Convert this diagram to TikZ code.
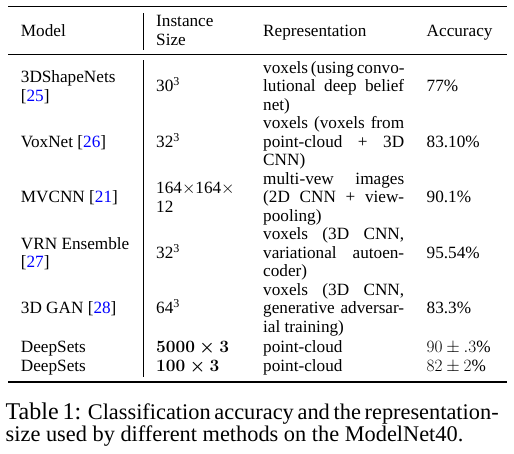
\documentclass[tikz,border=0pt]{standalone}
\usepackage{fontspec}
\setmainfont{Liberation Serif}
\usepackage{tikz}

\newcommand{\jline}[1]{\makebox[141pt][s]{#1}}
\newcommand{\cit}[1]{[\textcolor{blue}{#1}]}

\begin{document}
\begin{tikzpicture}[x=1pt,y=-1pt,
  txt/.style={anchor=base west,inner sep=0pt,font=\fontsize{17.2}{18.5}\selectfont},
  bld/.style={txt,font=\fontsize{17.2}{18.5}\selectfont\mathversion{bold}},
  captxt/.style={anchor=base west,inner sep=0pt,font=\fontsize{22.35}{24}\selectfont}]
  \useasboundingbox (0,0) rectangle (514,453);

  % rules
  \draw [line width=1.7pt] (8,6.5) -- (507,6.5);
  \draw [line width=1pt] (8,54) -- (507,54);
  \draw [line width=1.7pt] (8,381.7) -- (507,381.7);
  \draw [line width=0.9pt] (143.5,13) -- (143.5,50);
  \draw [line width=0.9pt] (143.5,60) -- (143.5,377);

  % header
  \node [txt] (hmodel) at (20.7,36.5) {Model};
  \node [txt] (hinst) at (156,26.7) {Instance};
  \node [txt] (hsize) at (156,45) {Size};
  \node [txt] (hrep) at (263,36.5) {Representation};
  \node [txt] (hacc) at (426.5,36.5) {Accuracy};

  % 3DShapeNets
  \node [txt] (m1) at (20.7,82.5) {3DShapeNets};
  \node [txt] (m1c) at (20.7,101) {\cit{25}};
  \node [txt] (s1) at (156,91.8) {30\textsuperscript{3}};
  \node [txt] (r1a) at (263,73.3) {\jline{voxels (using convo-}};
  \node [txt] (r1b) at (263,91.8) {\jline{lutional deep belief}};
  \node [txt] (r1c) at (263,110.3) {net)};
  \node [txt] (a1) at (426.5,91.8) {77\%};

  % VoxNet
  \node [txt] (m2) at (20.7,147.3) {VoxNet \cit{26}};
  \node [txt] (s2) at (156,147.3) {32\textsuperscript{3}};
  \node [txt] (r2a) at (263,128.8) {\jline{voxels (voxels from}};
  \node [txt] (r2b) at (263,147.3) {\jline{point-cloud + 3D}};
  \node [txt] (r2c) at (263,165.8) {CNN)};
  \node [txt] (a2) at (426.5,147.3) {83.10\%};

  % MVCNN
  \node [txt] (m3) at (20.7,202.8) {MVCNN \cit{21}};
  \node [txt] (s3a) at (156,193.5) {164$\times$164$\times$};
  \node [txt] (s3b) at (156,212) {12};
  \node [txt] (r3a) at (263,184.3) {\jline{multi-vew images}};
  \node [txt] (r3b) at (263,202.8) {\jline{(2D CNN + view-}};
  \node [txt] (r3c) at (263,221.3) {pooling)};
  \node [txt] (a3) at (426.5,202.8) {90.1\%};

  % VRN Ensemble
  \node [txt] (m4) at (20.7,249) {VRN Ensemble};
  \node [txt] (m4c) at (20.7,267.5) {\cit{27}};
  \node [txt] (s4) at (156,258.3) {32\textsuperscript{3}};
  \node [txt] (r4a) at (263,239.8) {\jline{voxels (3D CNN,}};
  \node [txt] (r4b) at (263,258.3) {\jline{variational autoen-}};
  \node [txt] (r4c) at (263,276.8) {coder)};
  \node [txt] (a4) at (426.5,258.3) {95.54\%};

  % 3D GAN
  \node [txt] (m5) at (20.7,313.8) {3D GAN \cit{28}};
  \node [txt] (s5) at (156,313.8) {64\textsuperscript{3}};
  \node [txt] (r5a) at (263,295.3) {\jline{voxels (3D CNN,}};
  \node [txt] (r5b) at (263,313.8) {\jline{generative adversar-}};
  \node [txt] (r5c) at (263,332.3) {ial training)};
  \node [txt] (a5) at (426.5,313.8) {83.3\%};

  % DeepSets
  \node [txt] (m6) at (20.7,352.8) {DeepSets};
  \node [bld] (s6) at (156,352.8) {$5000\times3$};
  \node [txt] (r6) at (263,352.8) {point-cloud};
  \node [txt] (a6) at (426.5,352.8) {$90\pm.3$\%};
  \node [txt] (m7) at (20.7,371.5) {DeepSets};
  \node [bld] (s7) at (156,371.5) {$100\times3$};
  \node [txt] (r7) at (263,371.5) {point-cloud};
  \node [txt] (a7) at (426.5,371.5) {$82\pm2$\%};

  % caption
  \node [captxt] (cap1) at (5.5,419) {\makebox[492.5pt][s]{{\fontsize{24}{26}\selectfont Table 1:} Classification accuracy and the representation-}};
  \node [captxt] (cap2) at (5.5,441) {size used by different methods on the ModelNet40.};
\end{tikzpicture}
\end{document}
